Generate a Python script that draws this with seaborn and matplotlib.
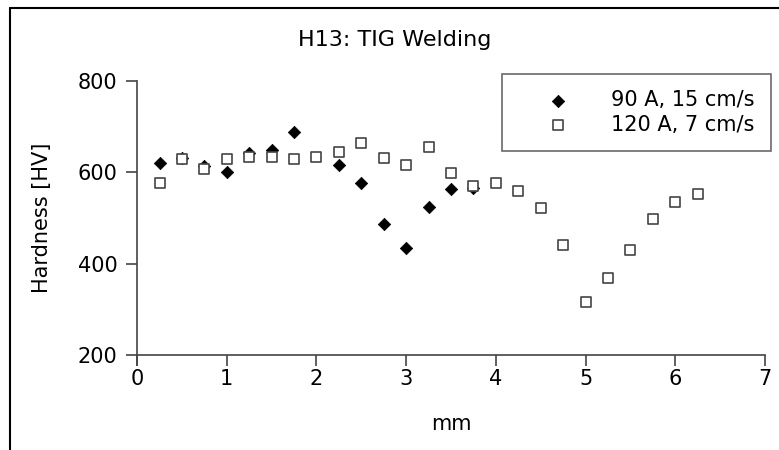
import pandas as pd
import seaborn as sns
import matplotlib
matplotlib.use('Agg')
import matplotlib.pyplot as plt
from matplotlib.lines import Line2D

# Hardness traverse across the weld.
pos_90a = [0.25, 0.5, 0.75, 1.0, 1.25, 1.5, 1.75,
           2.25, 2.5, 2.75, 3.0, 3.25, 3.5, 3.75]
hv_90a = [620, 631, 614, 601, 643, 649, 688,
          616, 576, 486, 435, 524, 563, 565]

pos_120a = [0.25, 0.5, 0.75, 1.0, 1.25, 1.5, 1.75, 2.0, 2.25, 2.5, 2.75,
            3.0, 3.25, 3.5, 3.75, 4.0, 4.25, 4.5, 4.75, 5.0, 5.25, 5.5,
            5.75, 6.0, 6.25]
hv_120a = [577, 629, 607, 630, 633, 633, 630, 633, 645, 665, 631,
           616, 656, 599, 570, 576, 559, 521, 440, 316, 368, 431,
           498, 535, 553]

label_90a = '90 A, 15 cm/s'
label_120a = '120 A, 7 cm/s'

df_90 = pd.DataFrame({'mm': pos_90a, 'hv': hv_90a})
df_120 = pd.DataFrame({'mm': pos_120a, 'hv': hv_120a})

sns.set_style('white')
plt.rcParams['font.family'] = ['DejaVu Sans']
plt.rcParams['font.size'] = 15
plt.rcParams['text.color'] = 'black'
plt.rcParams['axes.labelcolor'] = 'black'
plt.rcParams['xtick.color'] = 'black'
plt.rcParams['ytick.color'] = 'black'

fig = plt.figure(figsize=(7.79, 4.5), dpi=100)
ax = fig.add_axes([0.176, 0.211, 0.806, 0.609])

sns.scatterplot(data=df_90, x='mm', y='hv', marker='D', s=40,
                color='black', edgecolor='black', linewidth=0.5,
                label=label_90a, ax=ax, zorder=3)
sns.scatterplot(data=df_120, x='mm', y='hv', marker='s', s=55,
                color='white', edgecolor='#444444', linewidth=1.2,
                label=label_120a, ax=ax, zorder=4)

ax.set_xlim(0, 7)
ax.set_ylim(200, 800)
ax.set_xticks(range(0, 8))
ax.set_yticks([200, 400, 600, 800])

for side in ('top', 'right'):
    ax.spines[side].set_visible(False)
for side in ('left', 'bottom'):
    ax.spines[side].set_color('#444444')
    ax.spines[side].set_linewidth(1.2)
ax.spines['left'].set_bounds(178, 800)
ax.tick_params(direction='out', length=8, width=1.2, color='#444444',
               labelcolor='black', labelsize=15, bottom=True, left=True)
ax.tick_params(axis='x', pad=2)
ax.tick_params(axis='y', pad=6)

ax.set_xlabel('mm', fontsize=15)
ax.set_ylabel('Hardness [HV]', fontsize=15)
ax.xaxis.set_label_coords(0.5, -0.215)
ax.yaxis.set_label_coords(-0.135, 0.5)

fig.text(0.507, 0.911, 'H13: TIG Welding', ha='center', va='center',
         fontsize=16)

leg = ax.legend(loc='upper right', bbox_to_anchor=(0.990, 0.836),
                bbox_transform=fig.transFigure, borderaxespad=0,
                fancybox=False, frameon=True, fontsize=15,
                handlelength=3.8, handletextpad=0.65, borderpad=0.8,
                labelspacing=0.2)
leg.get_frame().set_edgecolor('#444444')
leg.get_frame().set_linewidth(1.2)

# outer frame lines along the top and left edges of the picture
fig.add_artist(Line2D([0.013, 1.0], [0.982, 0.982], color='black',
                      linewidth=1.5, transform=fig.transFigure))
fig.add_artist(Line2D([0.013, 0.013], [0.0, 0.982], color='black',
                      linewidth=1.5, transform=fig.transFigure))

fig.savefig('out.png', dpi=100)
